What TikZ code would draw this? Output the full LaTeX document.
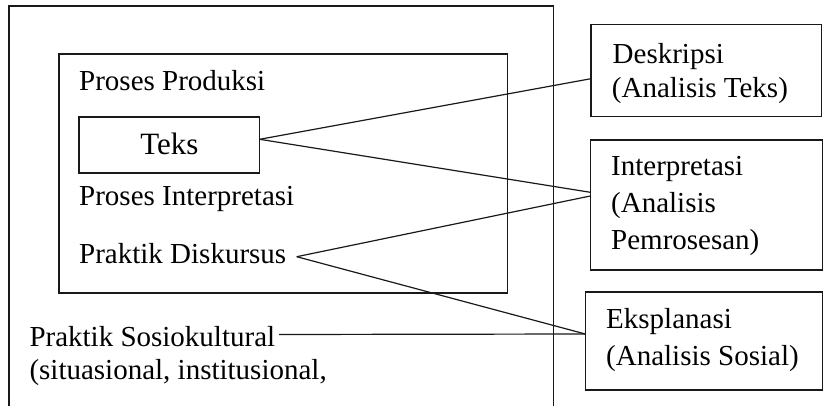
\documentclass[tikz,border=0pt]{standalone}
\usepackage{fontspec}
\setmainfont{Liberation Serif}
\begin{document}
\begin{tikzpicture}[x=1pt,y=-1pt,
  ln/.style={line width=1.2pt,black!90},
  box/.style={draw,ln,rectangle,inner sep=0pt},
  txt/.style={anchor=base west,inner sep=0pt,font=\fontsize{29}{34}\selectfont},
]
\useasboundingbox (0,0) rectangle (827,406);
% outer frame (open at bottom)
\draw[ln] (9,410) -- (9,6) -- (553.7,6) -- (553.7,410);
% inner frame
\draw[ln] (59,54) rectangle (507.7,293);
% boxes
\node[box,minimum width=180.7pt,minimum height=56pt] (teks) at (169.35,145) {};
\node[box,minimum width=230.7pt,minimum height=92.4pt] (desk) at (706.35,70.5) {};
\node[box,minimum width=232pt,minimum height=130pt] (interp) at (706.3,205) {};
\node[box,minimum width=237pt,minimum height=98pt] (eksp) at (703.8,341) {};
% texts
\node[anchor=base,inner sep=0pt,font=\fontsize{31}{36}\selectfont] (teksT) at (169.3,155) {Teks};
\node[txt] (pp) at (79,90.7) {Proses Produksi};
\node[txt] (pi) at (79,206) {Proses Interpretasi};
\node[txt] (pd) at (79,263.5) {Praktik Diskursus};
\node[txt] (ps) at (29.3,346.7) {Praktik Sosiokultural};
\node[txt] (ps2) at (29.3,379.5) {(situasional, institusional,};
\node[txt] (d1) at (612.5,63.3) {Deskripsi};
\node[txt] (d2) at (611.7,97.3) {(Analisis Teks)};
\node[txt] (i1) at (611,176) {Interpretasi};
\node[txt] (i2) at (611,213) {(Analisis};
\node[txt] (i3) at (611,249.5) {Pemrosesan)};
\node[txt] (e1) at (606,328) {Eksplanasi};
\node[txt] (e2) at (606,365) {(Analisis Sosial)};
% connector end points
\coordinate (tOut) at (259.7,139.3);
\coordinate (dIn) at (591,78.7);
\coordinate (iIn1) at (590.3,192.3);
\coordinate (iIn2) at (590.3,196);
\coordinate (pdOut) at (296.7,256.7);
\coordinate (eIn) at (585.3,334);
\coordinate (psOut) at (279,334.5);
% connectors
\draw[ln] (tOut) -- (dIn);
\draw[ln] (tOut) -- (iIn1);
\draw[ln] (pdOut) -- (iIn2);
\draw[ln] (pdOut) -- (eIn);
\draw[ln] (psOut) -- (eIn);
\end{tikzpicture}
\end{document}
